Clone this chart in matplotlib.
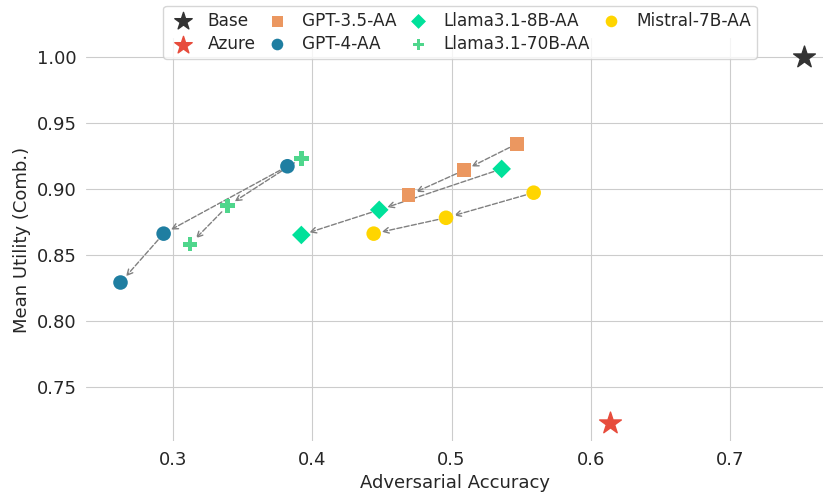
import matplotlib
matplotlib.use("Agg")
import matplotlib.pyplot as plt
import seaborn as sns

sns.set_style("whitegrid")
plt.rcParams['font.family'] = ['DejaVu Sans']

# points per method, in order of the arrows
base_x = [0.753]
base_y = [1.000]
azure_x = [0.614]
azure_y = [0.723]

gpt35_x = [0.547, 0.509, 0.469]
gpt35_y = [0.934, 0.914, 0.895]
gpt4_x = [0.382, 0.293, 0.262]
gpt4_y = [0.917, 0.866, 0.829]
llama8_x = [0.536, 0.448, 0.392]
llama8_y = [0.915, 0.884, 0.865]
llama70_x = [0.392, 0.339, 0.312]
llama70_y = [0.923, 0.887, 0.858]
mistral_x = [0.559, 0.496, 0.444]
mistral_y = [0.897, 0.878, 0.866]

fig = plt.figure(figsize=(8.23, 4.95), dpi=100)
ax = fig.add_axes([0.105, 0.109, 0.895, 0.814])

ax.scatter(base_x, base_y, marker='*', s=270, color='#333333', label='Base', zorder=3)
ax.scatter(azure_x, azure_y, marker='*', s=270, color='#e74c3c', label='Azure', zorder=3)

series = [
    (gpt35_x, gpt35_y, 's', 100, '#eb9760', 'GPT-3.5-AA'),
    (gpt4_x, gpt4_y, 'o', 110, '#1f7ea1', 'GPT-4-AA'),
    (llama8_x, llama8_y, 'D', 90, '#00e19a', 'Llama3.1-8B-AA'),
    (llama70_x, llama70_y, 'P', 110, '#4fd68c', 'Llama3.1-70B-AA'),
    (mistral_x, mistral_y, 'o', 110, '#ffd500', 'Mistral-7B-AA'),
]

for xs, ys, m, s, c, lab in series:
    ax.scatter(xs, ys, marker=m, s=s, color=c, label=lab, zorder=3, edgecolors='none')
    for i in range(len(xs) - 1):
        ax.annotate('', xy=(xs[i + 1], ys[i + 1]), xytext=(xs[i], ys[i]),
                    arrowprops=dict(arrowstyle='->', color='gray', ls='--', lw=1,
                                    shrinkA=6, shrinkB=6), zorder=2)

ax.set_xlim(0.2375, 0.767)
ax.set_ylim(0.709, 1.014)
ax.set_xticks([0.3, 0.4, 0.5, 0.6, 0.7])
ax.set_yticks([0.75, 0.80, 0.85, 0.90, 0.95, 1.00])
ax.set_yticklabels(['0.75', '0.80', '0.85', '0.90', '0.95', '1.00'])
ax.tick_params(labelsize=13, colors='#262626')
ax.set_xlabel('Adversarial Accuracy', fontsize=13, color='#262626')
ax.set_ylabel('Mean Utility (Comb.)', fontsize=13, color='#262626')
for sp in ax.spines.values():
    sp.set_visible(False)

ax.legend(loc='upper center', bbox_to_anchor=(0.559, 0.988), bbox_transform=fig.transFigure,
          borderaxespad=0, ncol=4, fontsize=12.2, frameon=True, markerscale=0.8,
          handlelength=1.6, handletextpad=0.65, columnspacing=0.5,
          borderpad=0.35, labelspacing=0.3)

fig.savefig('out.png', dpi=100)
